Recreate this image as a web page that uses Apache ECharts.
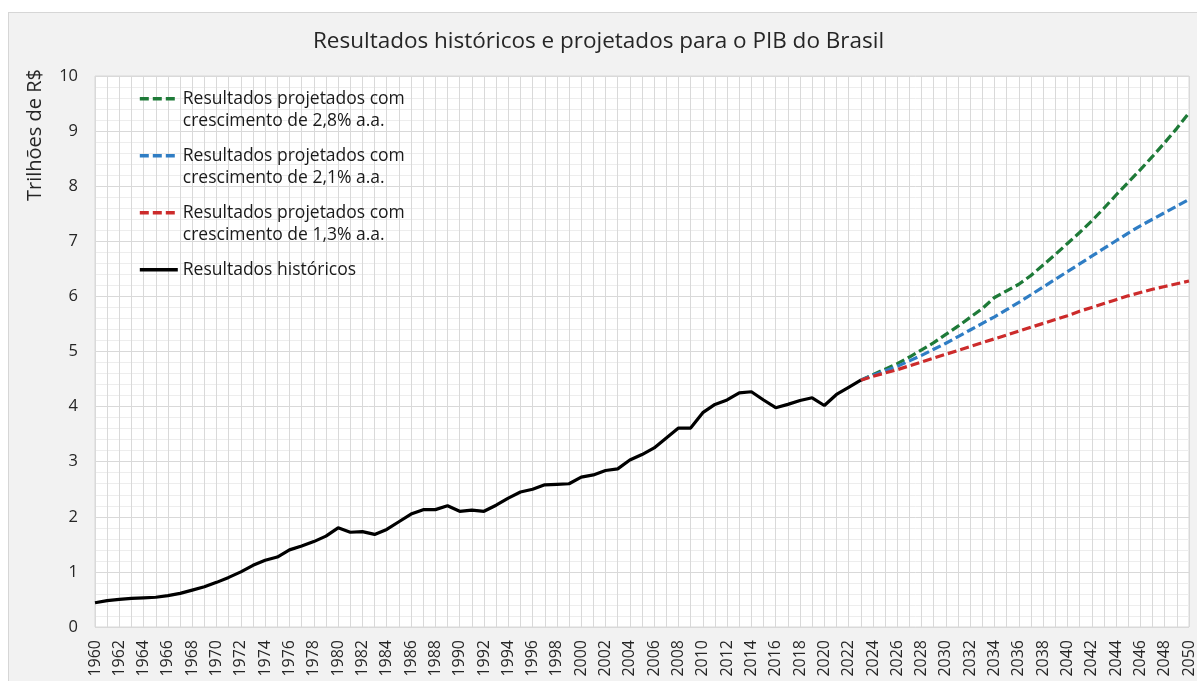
<!DOCTYPE html>
<html>
<head>
<meta charset="utf-8">
<script src="https://cdn.jsdelivr.net/npm/echarts@6/dist/echarts.min.js"></script>
<style>
html,body{margin:0;padding:0;background:#ffffff;width:1197px;height:681px;overflow:hidden;}
#frame{position:absolute;left:8px;top:12px;width:1200px;height:700px;background:#f2f2f2;border:1px solid #d6d6d6;box-sizing:border-box;}
#chart{position:absolute;left:0;top:0;width:1197px;height:681px;}
</style>
</head>
<body>
<div id="frame"></div>
<div id="chart"></div>
<script>
const titleText = 'Resultados históricos e projetados para o PIB do Brasil';
const yAxisTitle = 'Trilhões de R$';
const years = ['1960','1961','1962','1963','1964','1965','1966','1967','1968','1969',
  '1970','1971','1972','1973','1974','1975','1976','1977','1978','1979',
  '1980','1981','1982','1983','1984','1985','1986','1987','1988','1989',
  '1990','1991','1992','1993','1994','1995','1996','1997','1998','1999',
  '2000','2001','2002','2003','2004','2005','2006','2007','2008','2009',
  '2010','2011','2012','2013','2014','2015','2016','2017','2018','2019',
  '2020','2021','2022','2023','2024','2025','2026','2027','2028','2029',
  '2030','2031','2032','2033','2034','2035','2036','2037','2038','2039',
  '2040','2041','2042','2043','2044','2045','2046','2047','2048','2049','2050'];
const seriesNames = [
  'Resultados projetados com\ncrescimento de 2,8% a.a.',
  'Resultados projetados com\ncrescimento de 2,1% a.a.',
  'Resultados projetados com\ncrescimento de 1,3% a.a.',
  'Resultados históricos'
];
// 1960-2023
const historico = [0.44,0.48,0.50,0.52,0.53,0.54,0.57,0.61,0.67,0.73,
  0.81,0.90,1.00,1.12,1.21,1.27,1.40,1.47,1.55,1.65,
  1.80,1.72,1.73,1.68,1.77,1.91,2.05,2.13,2.13,2.20,
  2.10,2.12,2.10,2.21,2.34,2.45,2.50,2.58,2.59,2.60,
  2.72,2.76,2.84,2.87,3.03,3.13,3.25,3.43,3.61,3.61,
  3.89,4.04,4.12,4.25,4.27,4.12,3.98,4.04,4.11,4.16,
  4.02,4.22,4.35,4.48];
// 2023-2050
const proj28 = [4.48,4.58,4.68,4.78,4.90,5.03,5.16,5.31,5.46,5.62,
  5.78,5.98,6.10,6.22,6.38,6.57,6.76,6.96,7.16,7.37,
  7.60,7.84,8.07,8.30,8.54,8.79,9.05,9.33];
const proj21 = [4.48,4.57,4.65,4.73,4.83,4.93,5.04,5.15,5.27,5.39,
  5.51,5.63,5.76,5.89,6.03,6.17,6.31,6.45,6.59,6.73,
  6.87,7.01,7.15,7.28,7.40,7.52,7.64,7.76];
const proj13 = [4.48,4.55,4.61,4.67,4.74,4.81,4.88,4.95,5.02,5.09,
  5.16,5.23,5.30,5.37,5.44,5.51,5.58,5.65,5.73,5.80,
  5.87,5.94,6.01,6.07,6.13,6.18,6.23,6.28];
const colors = ['#1e7a38','#2f7dc4','#cc2b2b','#000000'];

const projStart = years.indexOf('2023');
function pad(arr){ const out = []; for (let i=0;i<projStart;i++) out.push(null); return out.concat(arr); }

const FONT = 'Open Sans';
const chart = echarts.init(document.getElementById('chart'), null, {renderer:'canvas'});
function dashed(name, data, color){
  return {name:name,type:'line',data:data,symbol:'none',smooth:false,
    lineStyle:{color:color,width:3.2,type:[9,4]},itemStyle:{color:color},z:3};
}
chart.setOption({
  backgroundColor:'transparent',
  animation:false,
  textStyle:{fontFamily:FONT},
  title:{text:titleText,left:'center',top:25,
    textStyle:{fontFamily:FONT,fontSize:22.5,fontWeight:'normal',color:'#262626'}},
  grid:{left:95,right:5,top:76,bottom:54,show:true,backgroundColor:'#ffffff',borderColor:'#d9d9d9',borderWidth:1,containLabel:false},
  legend:{
    orient:'vertical',left:138,top:65,padding:0,itemGap:-10.5,
    itemWidth:38,itemHeight:14,itemTextGap:7,
    data:[seriesNames[0],seriesNames[1],seriesNames[2],seriesNames[3]],
    formatter:function(n){ return n.indexOf('\n')>=0 ? '\n'+n : '\n'+n+'\n '; },
    itemStyle:{opacity:0},
    lineStyle:{width:3.6},
    textStyle:{fontFamily:FONT,fontSize:17.5,color:'#1a1a1a',lineHeight:22.5},
    selectedMode:false
  },
  graphic:[{type:'text',x:35,y:135,rotation:Math.PI/2,
    style:{text:yAxisTitle,align:'center',verticalAlign:'middle',fontFamily:FONT,fontSize:20,fill:'#262626'}}],
  xAxis:{type:'category',data:years,boundaryGap:false,
    axisLine:{show:false},axisTick:{show:false},
    axisLabel:{interval:1,rotate:90,margin:13,fontFamily:FONT,fontSize:16,color:'#262626'},
    splitLine:{show:true,interval:0,lineStyle:{color:'#d9d9d9',width:1}}},
  yAxis:{type:'value',min:0,max:10,interval:1,
    axisLine:{show:false},axisTick:{show:false},
    axisLabel:{margin:17,fontFamily:FONT,fontSize:16.5,color:'#262626'},
    splitLine:{show:true,lineStyle:{color:'#d9d9d9',width:1}},
    minorTick:{show:false,splitNumber:5},
    minorSplitLine:{show:true,lineStyle:{color:'#ededed',width:1}}},
  series:[
    dashed(seriesNames[0], pad(proj28), colors[0]),
    dashed(seriesNames[1], pad(proj21), colors[1]),
    dashed(seriesNames[2], pad(proj13), colors[2]),
    {name:seriesNames[3],type:'line',data:historico,symbol:'none',
      lineStyle:{color:colors[3],width:3.2},itemStyle:{color:colors[3]},z:4}
  ]
});
</script>
</body>
</html>
